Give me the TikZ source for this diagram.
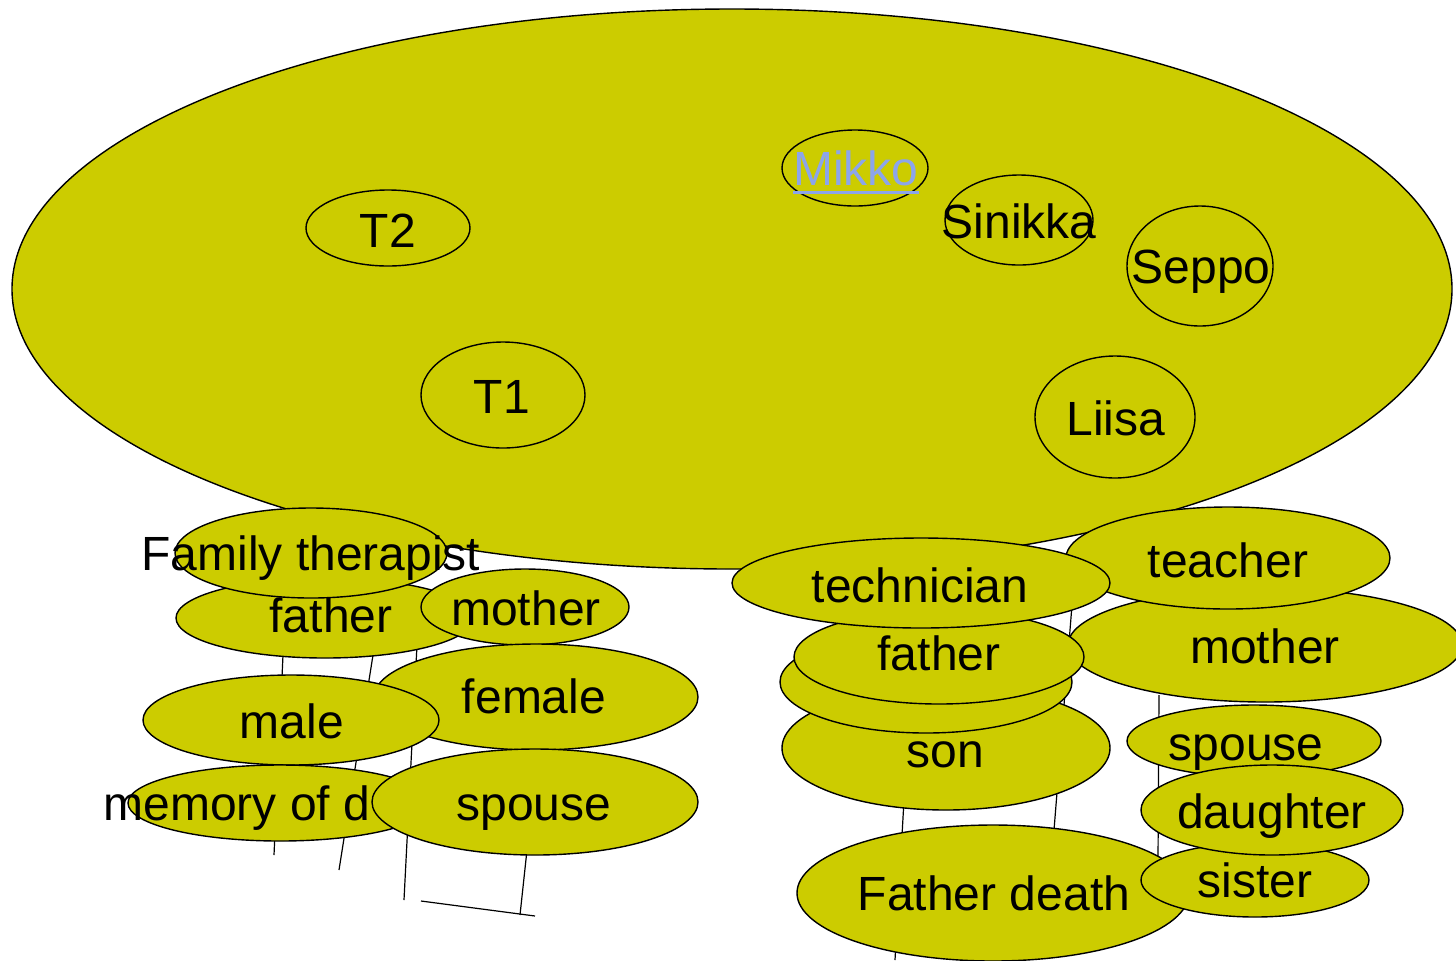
\documentclass[tikz,border=0pt]{standalone}
\usepackage{fontspec}
\setmainfont{Liberation Sans}
\usetikzlibrary{shapes.geometric}
\definecolor{blobfill}{RGB}{204,204,0}
\definecolor{linkblue}{RGB}{140,165,235}
\tikzset{
 blob/.style={ellipse, draw=black, line width=0.7pt, fill=blobfill, inner sep=0pt, outer sep=0pt},
 ring/.style={ellipse, draw=black, line width=0.7pt, inner sep=0pt, outer sep=0pt},
 lbl/.style={anchor=base, inner sep=0pt, font=\fontsize{24}{28}\selectfont},
 wire/.style={draw=black, line width=0.6pt}
}
% name, cx, cy, rx, ry, tx, ty, text
\newcommand\blobnode[8]{%
 \node[blob, minimum width=#4pt, minimum height=#5pt] (#1) at (#2,#3) {};
 \node[lbl] (#1-t) at (#6,#7) {#8};}
\newcommand\ringnode[8]{%
 \node[ring, minimum width=#4pt, minimum height=#5pt] (#1) at (#2,#3) {};
 \node[lbl] (#1-t) at (#6,#7) {#8};}
\newcommand\linkul[1]{{\setbox0\hbox{#1}\rlap{\rule[-4.5pt]{\wd0}{1.5pt}}\box0}}
\begin{document}
\begin{tikzpicture}[x=0.5pt,y=-0.5pt]
\useasboundingbox (0,0) rectangle (1456,960);
\fill[white] (0,0) rectangle (1456,960);
% big ellipse
\node[blob, minimum width=720pt, minimum height=280pt] (world) at (732,289) {};
\ringnode{t2}{388}{228}{82}{38}{388}{247}{T2}
\ringnode{t1}{503}{395}{82}{53}{502}{413}{T1}
\node[ring, minimum width=73pt, minimum height=38pt] (mikko) at (855,168) {};
\node[lbl, text=linkblue] (mikko-t) at (856,185) {\linkul{Mikko}};
\ringnode{sinikka}{1019}{220}{74}{45}{1019}{238}{Sinikka}
\ringnode{seppo}{1200}{266}{73}{60}{1201}{283}{Seppo}
\ringnode{liisa}{1115}{417}{80}{61}{1116}{435}{Liisa}
% connector remnants
\coordinate (a1) at (283,655); \coordinate (a2) at (274,855);
\coordinate (b1) at (373,655); \coordinate (b2) at (339,870);
\coordinate (c1) at (417,645); \coordinate (c2) at (404,900);
\coordinate (d1) at (527,850); \coordinate (d2) at (520,915);
\coordinate (e1) at (421,901); \coordinate (e2) at (535,916);
\coordinate (f1) at (1072,605); \coordinate (f2) at (1054,830);
\coordinate (g1) at (904,800); \coordinate (g2) at (895,960);
\coordinate (h1) at (1159,695); \coordinate (h2) at (1158,860);
\draw[wire] (a1) -- (a2);
\draw[wire] (b1) -- (b2);
\draw[wire] (c1) -- (c2);
\draw[wire] (d1) -- (d2);
\draw[wire] (e1) -- (e2);
\draw[wire] (f1) -- (f2);
\draw[wire] (g1) -- (g2);
\draw[wire] (h1) -- (h2);
% lower left
\blobnode{fatherL}{325}{618}{149}{40}{331}{632}{father}
\blobnode{therapist}{311}{553}{136}{45}{311}{570}{Family therapist}
\blobnode{motherL}{525}{607}{104}{38}{526}{625}{mother}
\blobnode{female}{536}{697}{162}{53}{534}{713}{female}
\blobnode{male}{291}{720}{148}{45}{292}{738}{male}
\node[blob, minimum width=152pt, minimum height=38pt] (memory) at (280,803) {};
\node[lbl, anchor=base west] (memory-t) at (103,820) {memory of d};
\blobnode{spouseL}{535}{802}{163}{53}{534}{820}{spouse}
% lower right
\blobnode{motherR}{1265}{645}{197}{57}{1265}{663}{mother}
\blobnode{teacher}{1228}{558}{162}{51}{1228}{577}{teacher}
\blobnode{son}{946}{748}{164}{62}{945}{767}{son}
\node[blob, minimum width=146pt, minimum height=51pt] (hidden) at (926,682) {};
\blobnode{fatherR}{939}{657}{145}{47}{939}{670}{father}
\blobnode{technician}{921}{583}{189}{45}{920}{602}{technician}
\blobnode{fdeath}{993}{893}{196}{68}{994}{910}{Father death}
\blobnode{sister}{1255}{880}{114}{37}{1255}{897}{sister}
\blobnode{spouseR}{1254}{741}{127}{36}{1246}{760}{spouse}
\blobnode{daughter}{1272}{810}{131}{45}{1272}{828}{daughter}
\end{tikzpicture}
\end{document}
